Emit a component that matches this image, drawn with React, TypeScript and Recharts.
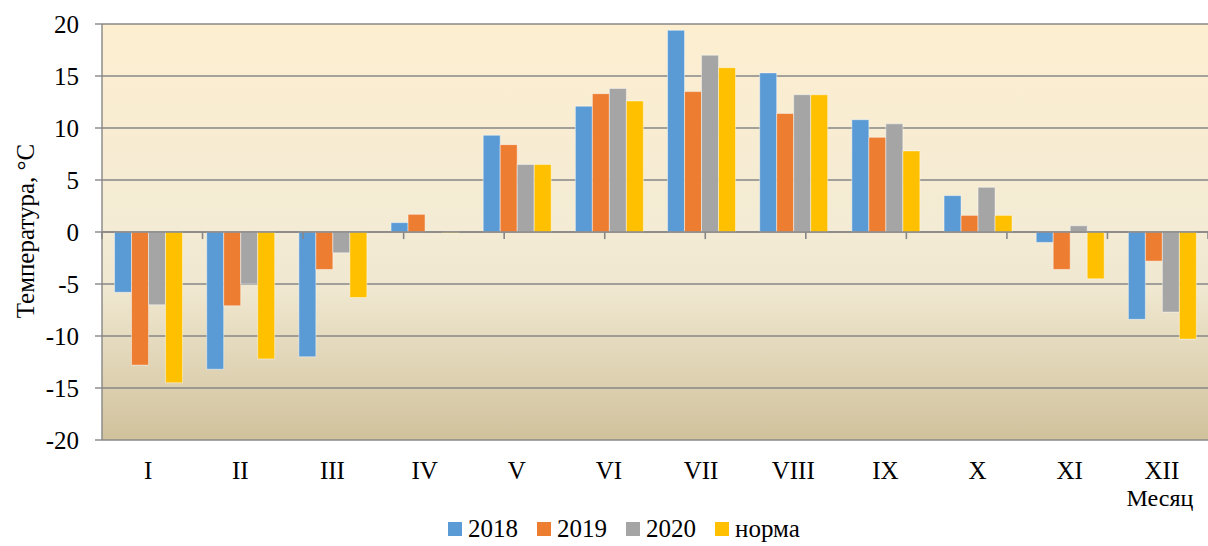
import React from 'react';
import { BarChart, Bar, XAxis, YAxis, CartesianGrid, ReferenceLine, Legend } from 'recharts';

const months = ['I', 'II', 'III', 'IV', 'V', 'VI', 'VII', 'VIII', 'IX', 'X', 'XI', 'XII'];
const t2018 = [-5.8, -13.2, -12.0, 0.9, 9.3, 12.1, 19.4, 15.3, 10.8, 3.5, -1.0, -8.4];
const t2019 = [-12.8, -7.1, -3.6, 1.7, 8.4, 13.3, 13.5, 11.4, 9.1, 1.6, -3.6, -2.8];
const t2020 = [-7.0, -5.0, -2.0, 0, 6.5, 13.8, 17.0, 13.2, 10.4, 4.3, 0.6, -7.7];
const norm = [-14.5, -12.2, -6.3, -0.1, 6.5, 12.6, 15.8, 13.2, 7.8, 1.6, -4.5, -10.3];
const yTicks = [-20, -15, -10, -5, 0, 5, 10, 15, 20];
const boundaries = [0, 1, 2, 3, 4, 5, 6, 7, 8, 9, 10, 11, 12];

const series = [
  { key: 'y2018', name: '2018', color: '#5B9BD5' },
  { key: 'y2019', name: '2019', color: '#ED7D31' },
  { key: 'y2020', name: '2020', color: '#A5A5A5' },
  { key: 'norm', name: 'норма', color: '#FFC000' },
];

const data = months.map((m, i) => ({
  month: m,
  y2018: t2018[i],
  y2019: t2019[i],
  y2020: t2020[i],
  norm: norm[i],
}));

const FONT = '"Liberation Serif", "Times New Roman", serif';
const GRID = '#878787';

const LegendContent = () => (
  <div style={{ width: 1208, height: 36, position: 'relative', fontFamily: FONT }}>
    <div style={{ position: 'absolute', left: 448, top: 4, display: 'flex', alignItems: 'center' }}>
      {series.map((s) => (
        <div key={s.key} style={{ display: 'flex', alignItems: 'center', marginRight: 19 }}>
          <div style={{ width: 14, height: 14, background: s.color, marginRight: 6 }} />
          <span style={{ fontSize: 25, color: '#000', lineHeight: '30px', fontFamily: FONT }}>{s.name}</span>
        </div>
      ))}
    </div>
  </div>
);

export default function App() {
  return (
    <div
      style={{
        position: 'absolute',
        left: 0,
        top: 0,
        width: 1208,
        height: 546,
        background: '#fff',
        fontFamily: FONT,
      }}
    >
      <BarChart
        width={1208}
        height={546}
        data={data}
        margin={{ top: 24, right: 0, left: 0, bottom: 0 }}
        barCategoryGap="13.6%"
        barGap={0}
        style={{ fontFamily: FONT }}
      >
        <defs>
          <linearGradient id="bgGrad" x1="0" y1="0" x2="0" y2="1">
            <stop offset="0%" stopColor="#FDEED0" />
            <stop offset="50%" stopColor="#F3EBD4" />
            <stop offset="64%" stopColor="#EFE7CF" />
            <stop offset="100%" stopColor="#D1C29D" />
          </linearGradient>
        </defs>
        <CartesianGrid vertical={false} stroke={GRID} strokeWidth={1.4} fill="url(#bgGrad)" />
        <XAxis
          dataKey="month"
          axisLine={false}
          tickLine={false}
          tickSize={0}
          tickMargin={21}
          height={70}
          interval={0}
          tick={{ fontSize: 25, fill: '#000', fontFamily: FONT }}
          label={{
            content: () => (
              <text x={1160} y={506} textAnchor="middle" fontSize={24} fill="#000" fontFamily={FONT}>
                Месяц
              </text>
            ),
          }}
        />
        <XAxis xAxisId="n" type="number" domain={[0, 12]} hide />
        <YAxis
          width={102}
          domain={[-20, 20]}
          ticks={yTicks}
          interval={0}
          axisLine={{ stroke: GRID, strokeWidth: 1.4 }}
          tickLine={{ stroke: GRID, strokeWidth: 1.4 }}
          tickSize={7}
          tickMargin={16}
          tick={{ fontSize: 25, fill: '#000', fontFamily: FONT }}
          label={{
            content: () => (
              <text
                x={25}
                y={231}
                transform="rotate(-90 25 231)"
                textAnchor="middle"
                dominantBaseline="central"
                fontSize={25}
                fill="#000"
                fontFamily={FONT}
              >
                Температура, °C
              </text>
            ),
          }}
        />
        <ReferenceLine y={0} stroke={GRID} strokeWidth={1.4} />
        {boundaries.map((b) => (
          <ReferenceLine
            key={b}
            xAxisId="n"
            segment={[{ x: b, y: 0 }, { x: b, y: -0.68 }]}
            stroke={GRID}
            strokeWidth={1.6}
            ifOverflow="visible"
          />
        ))}
        {series.map((s) => (
          <Bar
            key={s.key}
            dataKey={s.key}
            name={s.name}
            fill={s.color}
            stroke="rgba(255,255,255,0.45)"
            strokeWidth={1}
            isAnimationActive={false}
          />
        ))}
        <Legend verticalAlign="bottom" height={36} content={<LegendContent />} />
      </BarChart>
    </div>
  );
}
